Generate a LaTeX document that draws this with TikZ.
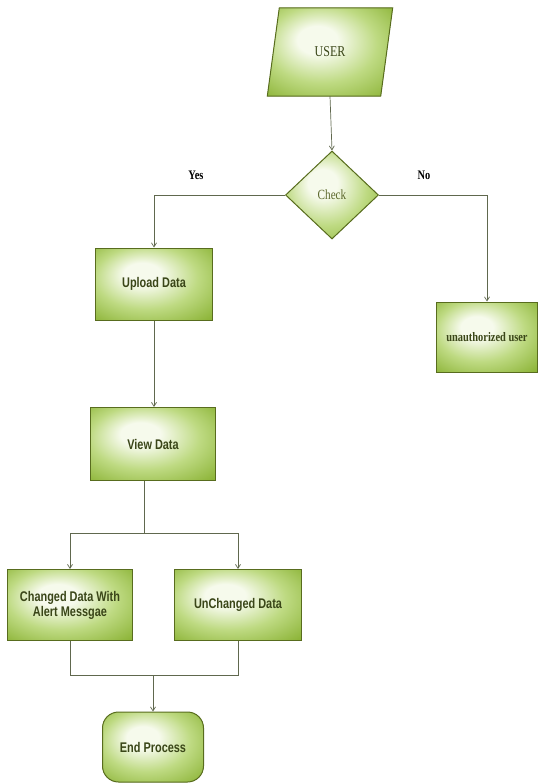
\documentclass[tikz,border=0pt]{standalone}
\usepackage{fontspec}
\usetikzlibrary{shapes.geometric,arrows.meta,positioning}
\newfontfamily\nsans[FakeStretch=0.78]{Liberation Sans}
\newfontfamily\nserif[FakeStretch=0.8]{Liberation Serif}
\definecolor{gfill}{RGB}{130,172,40}
\definecolor{gmid}{RGB}{190,218,130}
\definecolor{glight}{RGB}{246,250,236}
\definecolor{gdraw}{RGB}{88,108,30}
\definecolor{gtext}{RGB}{58,70,24}
\definecolor{ltext}{RGB}{92,104,44}
\definecolor{lcol}{RGB}{96,104,78}
\pgfdeclareradialshading{glow}{\pgfpoint{-6bp}{8bp}}{color(0bp)=(glight); color(8bp)=(glight); color(22bp)=(gmid); color(40bp)=(gfill); color(50bp)=(gfill)}
\begin{document}
\begin{tikzpicture}[x=1pt,y=-1pt,
  shine/.style={fill=gfill, draw=gdraw, line width=1pt,
    path picture={\shade[shading=glow]
      (path picture bounding box.south west) rectangle (path picture bounding box.north east);}},
  boxnode/.style={shine, rectangle, inner sep=2pt, align=center,
    font=\nsans\bfseries\fontsize{14}{15}\selectfont, text=gtext},
  arr/.style={draw=lcol, line width=0.7pt, -{Straight Barb[length=4pt,width=5pt]}},
  ln/.style={draw=lcol, line width=0.7pt},
  lbl/.style={font=\nserif\bfseries\fontsize{13}{14}\selectfont}]
\useasboundingbox (0,0) rectangle (538,784);
% USER parallelogram
\node[minimum width=113pt, minimum height=88pt, inner sep=0] (user) at (330,52) {};
\path[shine] ([xshift=6pt]user.north west) -- ([xshift=6pt]user.north east)
  -- ([xshift=-6pt]user.south east) -- ([xshift=-6pt]user.south west) -- cycle;
\node[font=\nserif\fontsize{15}{16}\selectfont, text=gtext] (usertxt) at (user.center) {USER};
% Check diamond
\node[shine, diamond, minimum width=93pt, minimum height=88pt, inner sep=0,
  font=\nserif\fontsize{14}{15}\selectfont, text=ltext] (check) at (332,195) {Check};
% boxes
\node[boxnode, minimum width=117pt, minimum height=72pt] (upload) at (154,284) {Upload Data};
\node[boxnode, minimum width=101pt, minimum height=70pt,
  font=\nserif\bfseries\fontsize{13}{14}\selectfont] (unauth) at (487,337) {unauthorized user};
\node[boxnode, minimum width=125pt, minimum height=73pt] (view) at (153,444) {View Data};
\node[boxnode, minimum width=125pt, minimum height=71pt] (changed) at (70,605) {Changed Data With\\Alert Messgae};
\node[boxnode, minimum width=127pt, minimum height=71pt] (unchanged) at (238,605) {UnChanged Data};
\node[boxnode, rounded corners=16pt, minimum width=101pt, minimum height=70pt] (endp) at (153,747) {End Process};
% connectors
\draw[arr] (user.south) -- (check.north);
\draw[arr] (check.west) -| (upload.north);
\draw[arr] (check.east) -| (unauth.north);
\draw[arr] (upload.south) -- (upload.south |- view.north);
\coordinate (split) at (144,533);
\coordinate (join) at (153,675);
\draw[ln] (view.south -| split) -- (split);
\draw[arr] (split) -| (changed.north);
\draw[arr] (split) -| (unchanged.north);
\draw[ln] (changed.south) |- (join);
\draw[ln] (unchanged.south) |- (join);
\draw[arr] (join) -- (endp.north);
% labels
\node[lbl] (yes) at (196,175) {Yes};
\node[lbl] (no) at (424,175) {No};
\end{tikzpicture}
\end{document}
